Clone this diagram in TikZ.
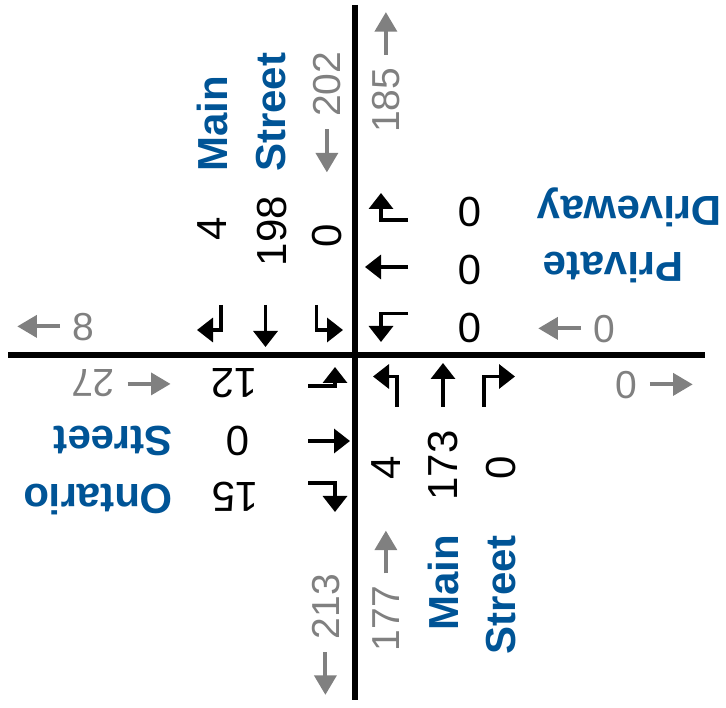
\documentclass[tikz,border=0pt]{standalone}
\usepackage{fontspec}
\setmainfont{Liberation Sans}
\usetikzlibrary{positioning,arrows.meta}
\definecolor{road}{RGB}{0,84,150}
\definecolor{flow}{RGB}{128,128,128}
\newcommand{\leftflow}{\tikz[baseline=-0.36em]\draw[flow, line width=0.1em,
  -{Triangle[length=0.5em, width=0.56em]}] (1.1em,0) -- (0,0);}
\newcommand{\rightflow}{\tikz[baseline=-0.36em]\draw[flow, line width=0.1em,
  -{Triangle[length=0.5em, width=0.56em]}] (0,0) -- (1.1em,0);}

\begin{document}
\begin{tikzpicture}[x=1pt, y=-1pt,
  vol/.style={font=\fontsize{42}{48}\selectfont, inner sep=0pt},
  street/.style={font=\fontsize{42}{48}\selectfont\bfseries, text=road, inner sep=0pt},
  total/.style={font=\fontsize{39}{45}\selectfont, text=flow, inner sep=0pt},
  turn/.style={line width=3.4pt, -{Triangle[length=16pt, width=24pt]}},
  axis/.style={line width=5.5pt}
]
  \useasboundingbox (0,0) rectangle (726,708);

  % the two roads
  \draw[axis] (8,355) -- (705,355);
  \draw[axis] (355,5) -- (355,700);

  % street names
  \node[street, rotate=90, anchor=west] (mainN) at (212.5,172) {Main};
  \node[street, rotate=90, anchor=west] (streetN) at (271,172) {Street};
  \node[street, rotate=90, anchor=east] (mainS) at (443,535) {Main};
  \node[street, rotate=90, anchor=east] (streetS) at (501.5,535) {Street};
  \node[street, rotate=180] (privE) at (613.5,267.5) {Private};
  \node[street, rotate=180, anchor=base] (driveE) at (629.5,197) {Driveway};
  \node[street, rotate=180, anchor=west] (streetW) at (173,441) {Street};
  \node[street, rotate=180, anchor=west] (ontW) at (173,500) {Ontario};

  % turning volumes
  \node[vol, rotate=90] (sbR) at (212.5,229) {4};
  \node[vol, rotate=90] (sbT) at (271.7,231) {198};
  \node[vol, rotate=90] (sbL) at (327.5,236) {0};
  \node[vol, rotate=180] (wbR) at (470,212) {0};
  \node[vol, rotate=180] (wbT) at (470,270) {0};
  \node[vol, rotate=180] (wbL) at (470,327.5) {0};
  \node[vol, rotate=180] (ebL) at (234,383) {12};
  \node[vol, rotate=180] (ebT) at (237.5,441) {0};
  \node[vol, rotate=180] (ebR) at (235,496.5) {15};
  \node[vol, rotate=90] (nbL) at (386,468) {4};
  \node[vol, rotate=90] (nbT) at (443.5,465.5) {173};
  \node[vol, rotate=90] (nbR) at (501,468) {0};

  % approach and departure totals
  \node[total, rotate=90] (inN) at (327.5,113) {\leftflow\ 202};
  \node[total, rotate=90] (outN) at (386.5,71.5) {185 \rightflow};
  \node[total] (outW) at (55,327) {\leftflow\ 8};
  \node[total, rotate=180] (inW) at (122,383.5) {\leftflow\ 27};
  \node[total] (inE) at (576,329) {\leftflow\ 0};
  \node[total] (outE) at (655,385) {0 \rightflow};
  \node[total, rotate=90] (outS) at (326,635.5) {\leftflow\ 213};
  \node[total, rotate=90] (inS) at (386.5,590) {177 \rightflow};

  % lane arrows
  \draw[turn] (221,305) -- (221,330) -- (197,330);
  \draw[turn] (265.5,305) -- (265.5,347);
  \draw[turn] (316.5,305) -- (316.5,330) -- (343,330);
  \draw[turn] (408,220) -- (381,220) -- (381,193);
  \draw[turn] (408,267) -- (365,267);
  \draw[turn] (408,313.5) -- (381,313.5) -- (381,342);
  \draw[turn] (308,386) -- (335,386) -- (335,367);
  \draw[turn] (308,441) -- (350,441);
  \draw[turn] (308,483) -- (335,483) -- (335,512);
  \draw[turn] (397,407) -- (397,376.5) -- (373,376.5);
  \draw[turn] (443,407) -- (443,363);
  \draw[turn] (484,407) -- (484,376.5) -- (515,376.5);
\end{tikzpicture}
\end{document}
